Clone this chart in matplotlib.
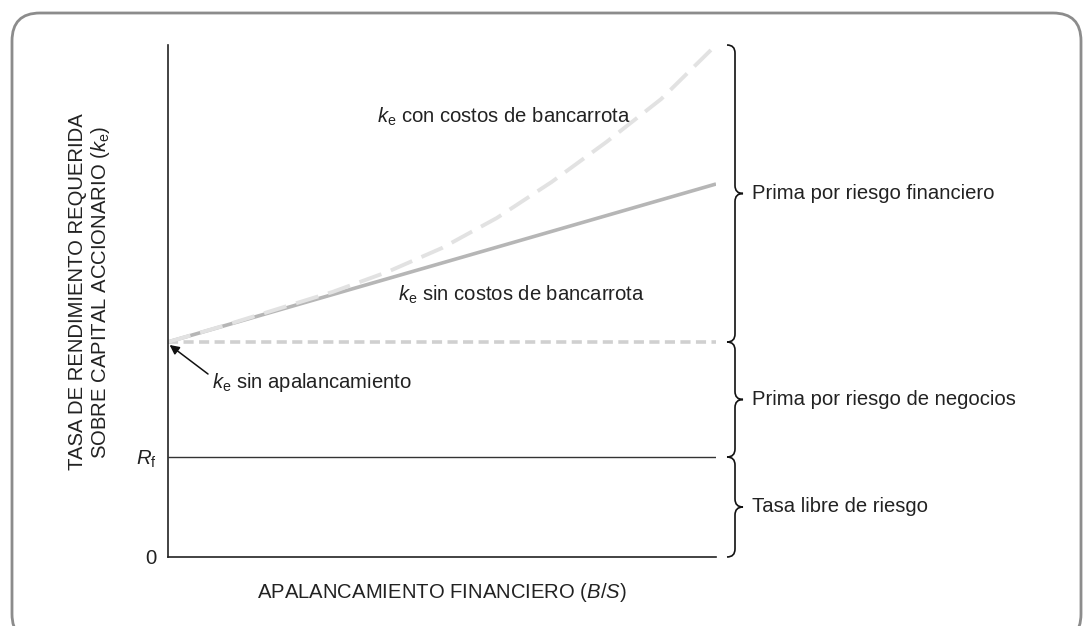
import matplotlib
matplotlib.use("Agg")
import matplotlib.pyplot as plt
from matplotlib.path import Path
from matplotlib.patches import PathPatch, FancyBboxPatch

plt.rcParams['font.family'] = ['Liberation Sans', 'DejaVu Sans']
plt.rcParams['mathtext.fontset'] = 'custom'
plt.rcParams['mathtext.rm'] = 'Liberation Sans'
plt.rcParams['mathtext.it'] = 'Liberation Sans:italic'

# ---- data ----
leverage = [0.0, 0.1, 0.2, 0.3, 0.4, 0.5, 0.6, 0.7, 0.8, 0.9, 1.0]
ke_con_costos = [2.15, 2.31, 2.48, 2.65, 2.85, 3.09, 3.39, 3.75, 4.15, 4.58, 5.12]
lev_sin = [0.0, 1.0]
ke_sin_costos = [2.15, 3.73]
ke_unlevered = 2.15
rf = 1.0
y_top = 5.12

ytick_vals = [0, rf]
ytick_labels = ['0', r'$R_{\mathrm{f}}$']

brace_ranges = [(y_top, ke_unlevered), (ke_unlevered, rf), (rf, 0.0)]
brace_labels = ['Prima por riesgo financiero', 'Prima por riesgo de negocios',
                'Tasa libre de riesgo']

FS = 14.6
TXT = '#222222'
W, H = 1087, 626
fig = plt.figure(figsize=(W / 100, H / 100), dpi=100)

# rounded frame
frame = FancyBboxPatch((0.12, -0.16), 10.69, 6.29,
                       boxstyle="round,pad=0,rounding_size=0.28",
                       transform=fig.dpi_scale_trans, fill=False,
                       edgecolor='#8c8c8c', linewidth=2.0)
fig.patches.append(frame)

ax = fig.add_axes([168 / W, 1 - 557 / H, (716 - 168) / W, (557 - 45) / H])
ax.set_xlim(0, 1)
ax.set_ylim(0, y_top)
for s in ['top', 'right']:
    ax.spines[s].set_visible(False)
for s in ['left', 'bottom']:
    ax.spines[s].set_color('#222222')
    ax.spines[s].set_linewidth(1.2)
ax.set_xticks([])
ax.set_yticks(ytick_vals)
ax.set_yticklabels(ytick_labels, fontsize=FS, color=TXT)
ax.tick_params(axis='y', length=0, pad=8)

# Rf line
ax.plot([0, 1], [rf, rf], color='#333333', lw=1.0, solid_capstyle='butt')
# unlevered ke dashed flat line
ax.plot([0, 1], [ke_unlevered, ke_unlevered], color='#d0d0d0', lw=2.6,
        dashes=(2.8, 1.5), dash_capstyle='butt')
# ke without bankruptcy costs
ax.plot(lev_sin, ke_sin_costos, color='#b6b6b6', lw=2.6, solid_capstyle='butt')
# ke with bankruptcy costs
ax.plot(leverage, ke_con_costos, color='#e2e2e2', lw=2.8,
        dashes=(6.0, 2.6), dash_capstyle='butt')

# labels inside plot
ax.text(0.381, 4.40, r'$k_{\mathrm{e}}$ con costos de bancarrota', fontsize=FS,
        color=TXT, ha='left', va='center')
ax.text(0.420, 2.62, r'$k_{\mathrm{e}}$ sin costos de bancarrota', fontsize=FS,
        color=TXT, ha='left', va='center')
ax.text(0.080, 1.74, r'$k_{\mathrm{e}}$ sin apalancamiento', fontsize=FS,
        color=TXT, ha='left', va='center')
ax.annotate('', xy=(0.003, ke_unlevered - 0.03), xytext=(0.073, 1.83),
            arrowprops=dict(arrowstyle='-|>', color='#111111', lw=1.1,
                            mutation_scale=14, shrinkA=0, shrinkB=0))

# braces
def px_x(px):
    return (px - 168) / 548.0

xh, xv, xt = px_x(727), px_x(735), px_x(743)
d = 0.08
for (y0, y1), lab in zip(brace_ranges, brace_labels):
    m = (y0 + y1) / 2
    verts = [(xh, y0), (xv, y0), (xv, y0 - d),
             (xv, m + d), (xv, m), (xt, m),
             (xv, m), (xv, m - d),
             (xv, y1 + d), (xv, y1), (xh, y1)]
    codes = [Path.MOVETO, Path.CURVE3, Path.CURVE3,
             Path.LINETO, Path.CURVE3, Path.CURVE3,
             Path.CURVE3, Path.CURVE3,
             Path.LINETO, Path.CURVE3, Path.CURVE3]
    ax.add_patch(PathPatch(Path(verts, codes), fill=False, edgecolor='#111111',
                           lw=1.2, clip_on=False))
    ax.text(px_x(752), m, lab, fontsize=FS, color=TXT, ha='left',
            va='center', clip_on=False)

# axis titles
fig.text(90 / W, 1 - 292 / H,
         'TASA DE RENDIMIENTO REQUERIDA\nSOBRE CAPITAL ACCIONARIO ($k_{\\mathrm{e}}$)',
         rotation=90, ha='center', va='center', multialignment='center',
         fontsize=FS, color=TXT, linespacing=1.1)
fig.text(442 / W, 1 - 592 / H, 'APALANCAMIENTO FINANCIERO ($B$/$S$)',
         ha='center', va='center', fontsize=FS, color=TXT)

fig.savefig('out.png', dpi=100)
